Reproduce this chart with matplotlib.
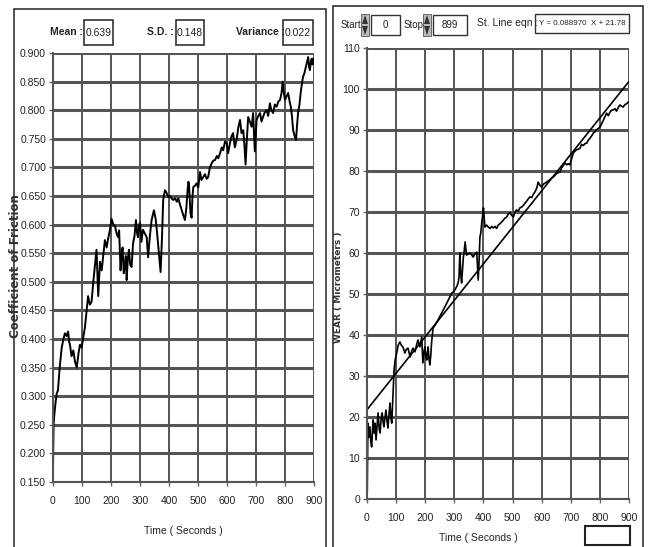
import matplotlib
matplotlib.use("Agg")
import matplotlib.pyplot as plt
from matplotlib.patches import Rectangle, Polygon
import numpy as np

plt.rcParams["font.family"] = ["Liberation Sans", "DejaVu Sans"]
FS = 7.5

# ---- coefficient of friction (left panel) ----
cof_t = [0, 2, 5, 9, 13, 17, 23, 30, 36, 41,
         47, 52, 56, 59, 64, 70, 76, 82, 88, 93,
         99, 105, 110, 116, 121, 127, 133, 139, 145, 150,
         156, 162, 168, 173, 179, 185, 190, 196, 202, 208,
         214, 219, 224, 228, 233, 236, 240, 244, 248, 251,
         254, 258, 262, 266, 271, 276, 281, 286, 290, 293,
         297, 300, 305, 310, 316, 323, 328, 334, 340, 348,
         354, 359, 365, 371, 376, 380, 386, 392, 398, 404,
         410, 415, 421, 427, 432, 438, 444, 450, 455, 460,
         464, 467, 469, 474, 478, 481, 484, 490, 495, 501,
         507, 512, 518, 524, 530, 535, 541, 547, 553, 559,
         565, 570, 576, 582, 587, 593, 599, 604, 610, 616,
         621, 627, 633, 639, 645, 650, 656, 660, 664, 668,
         673, 679, 685, 690, 696, 702, 708, 714, 719, 724,
         730, 737, 742, 748, 753, 759, 765, 771, 777, 783,
         788, 792, 796, 800, 806, 811, 816, 820, 824, 828,
         833, 838, 841, 845, 850, 854, 858, 862, 867, 872,
         876, 880, 883, 886, 889, 892, 895, 898]
cof_v = [.17, .25, .27, .29, .305, .31, .35, .385, .40, .41,
         .405, .413, .395, .388, .37, .38, .36, .35, .375, .39,
         .385, .405, .42, .45, .475, .46, .465, .50, .53, .556,
         .475, .535, .52, .545, .573, .56, .575, .59, .61, .60,
         .597, .585, .578, .59, .52, .545, .56, .515, .53, .545,
         .503, .54, .556, .53, .526, .567, .58, .608, .585, .578,
         .60, .603, .57, .591, .585, .578, .543, .58, .608, .625,
         .61, .585, .55, .517, .58, .643, .66, .655, .648, .65,
         .645, .643, .646, .64, .646, .635, .625, .615, .608, .63,
         .66, .675, .67, .62, .612, .65, .666, .668, .672, .665,
         .692, .678, .683, .688, .68, .683, .70, .707, .712, .713,
         .72, .716, .725, .735, .73, .745, .742, .725, .742, .755,
         .76, .735, .748, .77, .783, .76, .765, .74, .705, .745,
         .788, .78, .771, .795, .728, .783, .79, .795, .78, .788,
         .796, .80, .79, .812, .80, .795, .81, .806, .815, .818,
         .83, .85, .83, .818, .825, .83, .815, .806, .79, .765,
         .755, .748, .77, .795, .81, .83, .845, .858, .865, .876,
         .885, .893, .875, .87, .885, .89, .88, .89]

# ---- wear (right panel) ----
wear_t = [0, 1, 3, 6, 10, 13, 16, 19, 21, 25,
          28, 31, 35, 38, 42, 45, 49, 52, 55, 58,
          62, 65, 69, 72, 76, 79, 82, 85, 89, 93,
          97, 102, 107, 113, 118, 124, 130, 135, 141, 148,
          153, 158, 165, 170, 175, 182, 188, 192, 196, 199,
          202, 205, 208, 210, 213, 216, 219, 222, 227, 235,
          244, 250, 257, 265, 274, 282, 291, 296, 302, 308,
          313, 316, 319, 322, 325, 328, 331, 334, 337, 342,
          348, 354, 360, 365, 371, 377, 382, 385, 388, 391,
          394, 397, 400, 405, 411, 417, 423, 428, 434, 440,
          445, 451, 457, 462, 468, 474, 480, 485, 491, 497,
          503, 508, 514, 520, 525, 531, 537, 543, 548, 554,
          560, 566, 571, 577, 583, 588, 594, 600, 606, 611,
          617, 623, 628, 634, 640, 646, 651, 657, 663, 668,
          674, 680, 686, 691, 697, 703, 709, 714, 720, 726,
          732, 737, 743, 749, 755, 760, 766, 772, 778, 783,
          789, 795, 800, 806, 812, 817, 823, 829, 835, 840,
          846, 852, 857, 863, 869, 875, 880, 886, 892, 897]
wear_v = [0.5, 2.2, 18.5, 15, 17.6, 14, 12.7, 17, 19.3, 16,
          18.5, 14.4, 18, 21, 17, 16.1, 20, 21, 19, 17.6,
          20, 21.7, 19, 17.3, 21, 23.4, 20, 18.5, 24.9, 31.5,
          34, 35.6, 37.5, 38.3, 37.5, 37, 35.6, 36.5, 36.8, 34.6,
          36, 36.8, 35.9, 37.5, 38.8, 37.1, 39.5, 33.2, 36, 37.1,
          35, 33.9, 36, 37.1, 34, 32.7, 35, 38.3, 41.7, 42.5,
          43.7, 44.5, 45.4, 46.5, 47.8, 49, 50.2, 50.5, 51, 51.8,
          52.7, 54, 60, 55, 52.7, 56, 59, 60.5, 62.7, 59.5,
          59.8, 60, 59.5, 59, 59.8, 60.2, 53.4, 58, 63.9, 65,
          67.3, 69, 71, 66.3, 66.8, 66.3, 66, 66.5, 66.1, 66.5,
          66, 66.8, 67.2, 67.5, 68, 68.5, 68.8, 69.5, 69.8, 69.2,
          68.8, 70, 70.5, 70.2, 71, 71.2, 71.6, 72.2, 72.6, 73.2,
          73.7, 73.5, 74.3, 74.9, 75.8, 77.3, 76.5, 76.1, 76.8, 77,
          77.3, 77.6, 77.9, 78.3, 78.5, 79, 79.4, 79.6, 79.8, 80.7,
          81.3, 82, 81.5, 81.8, 81.5, 83, 84.4, 84.8, 85.2, 85.3,
          85.6, 86.5, 86.2, 86.7, 86.8, 87.5, 88, 88.6, 89.3, 89.6,
          90.1, 90.4, 90.7, 91.5, 92.4, 93.2, 94.1, 93.5, 94.4, 94.8,
          94.9, 95.2, 94.6, 95.5, 96.1, 95.8, 95.6, 96.2, 96.4, 96.8]

fit_slope, fit_icpt = 0.088970, 21.78
stats = [("Mean :", "0.639"), ("S.D. :", "0.148"), ("Variance :", "0.022")]

W, H = 649, 547
fig = plt.figure(figsize=(W / 100, H / 100), dpi=100)
GRID = "#555555"
TXT = "#222222"


def fx(x):
    return x / W


def fy(y):
    return 1 - y / H


def rect(x0, y0, x1, y1, lw=1.0, ec="#333333", fc="none"):
    fig.add_artist(Rectangle((fx(x0), fy(y1)), (x1 - x0) / W, (y1 - y0) / H,
                             transform=fig.transFigure, fill=fc != "none",
                             fc=fc, ec=ec, lw=lw))


def style(ax, yticks, yfmt):
    ax.set_xlim(0, 900)
    ax.set_xticks(range(0, 901, 100))
    ax.set_yticks(yticks)
    ax.set_yticklabels([yfmt.format(v) for v in yticks])
    ax.set_ylim(yticks[0], yticks[-1])
    ax.grid(axis="y", color=GRID, lw=2.2)
    ax.grid(axis="x", color=GRID, lw=1.4)
    for s in ("top", "right"):
        ax.spines[s].set_visible(False)
    for s in ("left", "bottom"):
        ax.spines[s].set_color(GRID)
        ax.spines[s].set_linewidth(1.5)
    ax.tick_params(direction="out", length=3, width=1, color="#666666",
                   labelsize=FS, labelcolor=TXT, pad=2)
    ax.tick_params(axis="x", pad=7)
    ax.set_axisbelow(True)


# left panel
rect(14, 9, 326, 560, lw=1.2)
ax1 = fig.add_axes([fx(53), fy(482), (314 - 53) / W, (482 - 53) / H])
ax1.plot(cof_t, cof_v, color="black", lw=1.4)
style(ax1, list(np.round(np.arange(0.15, 0.9001, 0.05), 3)), "{:.3f}")
ax1.set_xlabel("Time ( Seconds )", fontsize=FS, color=TXT)
ax1.xaxis.set_label_coords((183 - 53) / 261, -(526 - 482) / 429)
ax1.set_ylabel("Coefficient of Friction", fontsize=8.5, fontweight="bold",
               family="DejaVu Sans", color="#333333")
ax1.yaxis.set_label_coords((22 - 53) / 261, (482 - 266) / 429)

label_x = [67, 160, 261]
box_x = [(84, 113), (176, 204), (283, 313)]
for (lab, val), lx, (b0, b1) in zip(stats, label_x, box_x):
    fig.text(fx(lx), fy(32), lab, ha="center", va="center", fontsize=FS,
             fontweight="bold", color=TXT)
    rect(b0, 20, b1, 45, lw=1.2)
    fig.text(fx((b0 + b1) / 2), fy(33), val, ha="center", va="center",
             fontsize=FS, color=TXT)

# right panel
rect(333, 6, 643, 560, lw=1.2)
ax2 = fig.add_axes([fx(367), fy(499), (629 - 367) / W, (499 - 48) / H])
ax2.plot(wear_t, wear_v, color="black", lw=1.2)
xs = np.array([0, 900])
ax2.plot(xs, fit_slope * xs + fit_icpt, color="black", lw=1.2)
style(ax2, list(range(0, 111, 10)), "{:d}")
ax2.set_xlabel("Time ( Seconds )", fontsize=FS, color=TXT)
ax2.xaxis.set_label_coords((478 - 367) / 262, -(533 - 499) / 451)
ax2.set_ylabel("WEAR ( Micrometers )", fontsize=6.5, fontweight="bold",
               family="DejaVu Sans", color="#333333")
ax2.yaxis.set_label_coords((343 - 367) / 262, (499 - 287) / 451)


def spinner(x0, x1, y0, y1):
    rect(x0, y0, x1, y1, lw=0.6, ec="#555555", fc="#bbbbbb")
    xm = (x0 + x1) / 2
    ym = (y0 + y1) / 2
    up = [(fx(x0 + 1), fy(ym - 1)), (fx(x1 - 1), fy(ym - 1)), (fx(xm), fy(y0 + 1))]
    dn = [(fx(x0 + 1), fy(ym + 1)), (fx(x1 - 1), fy(ym + 1)), (fx(xm), fy(y1 - 1))]
    for pts in (up, dn):
        fig.add_artist(Polygon(pts, closed=True, transform=fig.transFigure,
                               fc="#333333", ec="none"))


fig.text(fx(351), fy(25), "Start", ha="center", va="center", fontsize=7, color=TXT)
spinner(361, 369, 14, 36)
rect(371, 15, 400, 35)
fig.text(fx(385), fy(25), "0", ha="center", va="center", fontsize=7, color=TXT)
fig.text(fx(414), fy(25), "Stop", ha="center", va="center", fontsize=7, color=TXT)
spinner(423, 431, 14, 36)
rect(433, 15, 467, 35)
fig.text(fx(450), fy(25), "899", ha="center", va="center", fontsize=7, color=TXT)
fig.text(fx(508), fy(23), "St. Line eqn :", ha="center", va="center",
         fontsize=7.5, color=TXT)
rect(535, 14, 629, 33)
fig.text(fx(582), fy(23.5), f"Y = {fit_slope:.6f}  X + {fit_icpt:.2f}",
         ha="center", va="center", fontsize=5.8, color=TXT)

rect(585, 526, 630, 545, lw=1.5, ec="#222222")

fig.savefig("out.png", dpi=100)
